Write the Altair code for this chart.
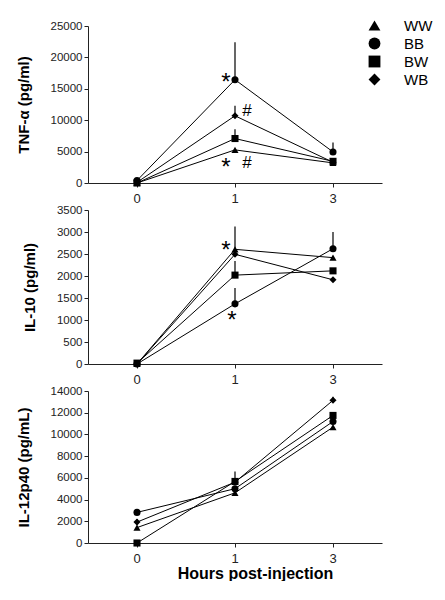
import altair as alt
import pandas as pd

# ---------------- data ----------------
times = ["0", "1", "3"]
groups = ["WW", "BB", "BW", "WB"]
shapes = ["triangle-up", "circle", "square", "diamond"]

panel_ids = ["TNF", "IL10", "IL12"]
panel_titles = ["TNF-α (pg/ml)", "IL-10 (pg/ml)", "IL-12p40 (pg/mL)"]
panel_max = [25000, 3500, 14000]
panel_ticks = [
    [0, 5000, 10000, 15000, 20000, 25000],
    [0, 500, 1000, 1500, 2000, 2500, 3000, 3500],
    [0, 2000, 4000, 6000, 8000, 10000, 12000, 14000],
]

# TNF-alpha (values at 0, 1, 3 h) and upper error
tnf_ww = [0, 5270, 3200]
tnf_bb = [400, 16450, 4950]
tnf_bw = [0, 7080, 3450]
tnf_wb = [100, 10700, 3300]
tnf_ww_err = [0, 0, 0]
tnf_bb_err = [0, 5950, 1490]
tnf_bw_err = [0, 1470, 0]
tnf_wb_err = [0, 1600, 0]

# IL-10
il10_ww = [0, 2606, 2417]
il10_bb = [0, 1367, 2620]
il10_bw = [20, 2020, 2117]
il10_wb = [0, 2493, 1914]
il10_ww_err = [0, 520, 0]
il10_bb_err = [0, 360, 380]
il10_bw_err = [0, 320, 0]
il10_wb_err = [0, 0, 0]

# IL-12p40
il12_ww = [1420, 4620, 10670]
il12_bb = [2820, 5000, 11190]
il12_bw = [0, 5670, 11750]
il12_wb = [1925, 5600, 13140]
il12_ww_err = [0, 0, 0]
il12_bb_err = [0, 0, 0]
il12_bw_err = [0, 910, 0]
il12_wb_err = [280, 0, 320]

# significance marks
ann_panel = ["TNF", "TNF", "TNF", "TNF", "IL10", "IL10"]
ann_time = ["1", "1", "1", "1", "1", "1"]
ann_value = [15900, 11390, 2350, 3190, 2560, 980]
ann_text = ["*", "#", "*", "#", "*", "*"]
ann_side = ["left", "right", "left", "right", "left", "below"]

# ---------------- tables ----------------
series = {
    "TNF": [(tnf_ww, tnf_ww_err), (tnf_bb, tnf_bb_err), (tnf_bw, tnf_bw_err), (tnf_wb, tnf_wb_err)],
    "IL10": [(il10_ww, il10_ww_err), (il10_bb, il10_bb_err), (il10_bw, il10_bw_err), (il10_wb, il10_wb_err)],
    "IL12": [(il12_ww, il12_ww_err), (il12_bb, il12_bb_err), (il12_bw, il12_bw_err), (il12_wb, il12_wb_err)],
}
rows = []
for pid in panel_ids:
    for g, (vals, errs) in zip(groups, series[pid]):
        for t, v, e in zip(times, vals, errs):
            rows.append({"panel": pid, "group": g, "time": t, "value": v, "err": e})
df = pd.DataFrame(rows)
ann = pd.DataFrame({"panel": ann_panel, "time": ann_time, "value": ann_value,
                    "text": ann_text, "side": ann_side})

FONT = "Liberation Sans"
W = 294
heights = [157, 154, 152]
side_dx = {"left": -9, "right": 12, "below": -3}


def make_panel(i):
    pid = panel_ids[i]
    last = i == len(panel_ids) - 1
    d = df[df.panel == pid]
    xaxis = alt.Axis(
        labelAngle=0, labelFontSize=13, tickSize=4, labelPadding=5,
        title="Hours post-injection" if last else None,
        titleFontSize=16, titleFontWeight="bold", titlePadding=0,
        titleX=167, titleAlign="center",
    )
    yaxis = alt.Axis(values=panel_ticks[i], tickCount=len(panel_ticks[i]),
                     title=panel_titles[i], format="d", labelOverlap=False,
                     labelFontSize=11.5, tickSize=4, labelPadding=2,
                     titleFontSize=15, titleFontWeight="bold", titlePadding=19)
    x = alt.X("time:O", scale=alt.Scale(domain=times), axis=xaxis)
    y = alt.Y("value:Q",
              scale=alt.Scale(domain=[0, panel_max[i]], nice=False, zero=True),
              axis=yaxis)
    base = alt.Chart(d).encode(x=x, y=y)
    lines = base.mark_line(color="black", strokeWidth=1).encode(detail="group:N")
    err = (base.transform_filter("datum.err > 0")
           .transform_calculate(hi="datum.value + datum.err")
           .mark_rule(color="black", strokeWidth=1.2)
           .encode(y2="hi:Q"))
    pts = base.mark_point(filled=True, color="black", opacity=1, size=50).encode(
        shape=alt.Shape("group:N",
                        scale=alt.Scale(domain=groups, range=shapes),
                        legend=alt.Legend(title=None, orient="none",
                                          legendX=279, legendY=-8,
                                          labelFontSize=15, labelFont=FONT,
                                          labelColor="black",
                                          symbolSize=140, symbolFillColor="black",
                                          symbolStrokeColor="black",
                                          symbolStrokeWidth=0,
                                          labelOffset=22, rowPadding=2)))
    layers = [lines, err, pts]
    a = ann[ann.panel == pid]
    if len(a):
        for side, dx in side_dx.items():
            s = a[a.side == side]
            if len(s):
                layers.append(
                    alt.Chart(s).mark_text(font=FONT, color="black",
                                           dx=dx, baseline="middle", align="center")
                    .encode(x=alt.X("time:O", scale=alt.Scale(domain=times), axis=xaxis),
                            y=alt.Y("value:Q", axis=yaxis), text="text:N",
                            size=alt.Size("text:N",
                                          scale=alt.Scale(domain=["*", "#"], range=[24, 17]),
                                          legend=None)))
    return alt.layer(*layers).properties(width=W, height=heights[i])


chart = alt.vconcat(*[make_panel(i) for i in range(3)], spacing=27, bounds="flush").properties(
    padding={"left": 8, "top": 10, "right": 0, "bottom": 0}
).configure_view(stroke=None).configure_axis(
    grid=False, domainColor="#222", tickColor="#222", labelColor="#222",
    titleColor="black", labelFont=FONT, titleFont=FONT
).configure_legend(labelFont=FONT)

chart.save("out.html", embed_options={"renderer": "svg", "actions": False})
